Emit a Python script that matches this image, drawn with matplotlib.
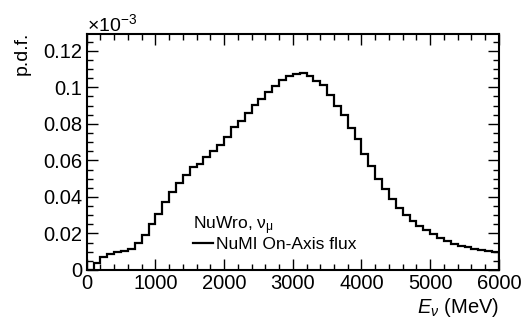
import numpy as np
import matplotlib
matplotlib.use("Agg")
import matplotlib.pyplot as plt
from matplotlib.ticker import MultipleLocator, FuncFormatter
from matplotlib.lines import Line2D

# NuMI on-axis nu_mu flux, p.d.f. (x 1e-3), 100 MeV bins from 0 to 6000 MeV
bin_edges = np.arange(0, 6001, 100)
pdf_values = [
    0.0002, 0.0037, 0.0070, 0.0090, 0.0098, 0.0105, 0.0116, 0.0150, 0.0190, 0.0254,
    0.0308, 0.0370, 0.0426, 0.0479, 0.0522, 0.0565, 0.0582, 0.0617, 0.0651, 0.0686,
    0.0727, 0.0782, 0.0814, 0.0860, 0.0905, 0.0934, 0.0975, 0.1006, 0.1042, 0.1060,
    0.1075, 0.1076, 0.1064, 0.1036, 0.1013, 0.0957, 0.0900, 0.0851, 0.0780, 0.0716,
    0.0635, 0.0571, 0.0496, 0.0442, 0.0389, 0.0339, 0.0301, 0.0270, 0.0241, 0.0217,
    0.0196, 0.0175, 0.0158, 0.0145, 0.0134, 0.0124, 0.0117, 0.0110, 0.0104, 0.0098,
]

plt.rcParams['font.family'] = ['Liberation Sans', 'DejaVu Sans']
plt.rcParams['mathtext.fontset'] = 'custom'
plt.rcParams['mathtext.rm'] = 'Liberation Sans'
plt.rcParams['mathtext.it'] = 'Liberation Sans:italic'

fig = plt.figure(figsize=(5.24, 3.26), dpi=100)
ax = fig.add_axes([0.1655, 0.1718, 0.952 - 0.1655, 0.8957 - 0.1718])

ax.stairs(pdf_values, bin_edges, color='black', linewidth=1.6)

ax.set_xlim(0, 6000)
ax.set_ylim(0, 0.1292)

# ROOT-like ticks on all four sides, pointing inward
ax.xaxis.set_major_locator(MultipleLocator(1000))
ax.xaxis.set_minor_locator(MultipleLocator(200))
ax.yaxis.set_major_locator(MultipleLocator(0.02))
ax.yaxis.set_minor_locator(MultipleLocator(0.005))
ax.yaxis.set_major_formatter(FuncFormatter(lambda v, p: f"{v:g}"))
ax.tick_params(which='both', direction='in', top=True, right=True, width=1.0)
ax.tick_params(which='major', length=8, labelsize=14.5, pad=3)
ax.tick_params(which='minor', length=4)
for s in ax.spines.values():
    s.set_linewidth(1.5)

ax.text(0.0, 0.995, r"$\times$10$^{-3}$", transform=ax.transAxes, fontsize=14,
        ha='left', va='bottom')
ax.text(1.0, -0.182, r"$E_{\nu}$ (MeV)", transform=ax.transAxes, fontsize=14.5,
        ha='right', va='baseline')
fig.text(0.042, 0.902, "p.d.f.", rotation=90, fontsize=14, ha='center', va='top')

handle = Line2D([], [], color='black', linewidth=1.6)
leg = ax.legend([handle], ["NuMI On-Axis flux"], title=r"NuWro, ν$_\mathrm{μ}$",
                loc='lower left', bbox_to_anchor=(0.238, 0.04), frameon=False,
                fontsize=12.5, title_fontsize=12.5, handlelength=1.15, handletextpad=0.15,
                borderpad=0.0, labelspacing=0.0)
leg._legend_box.align = "left"

fig.savefig("out.png", dpi=100)
